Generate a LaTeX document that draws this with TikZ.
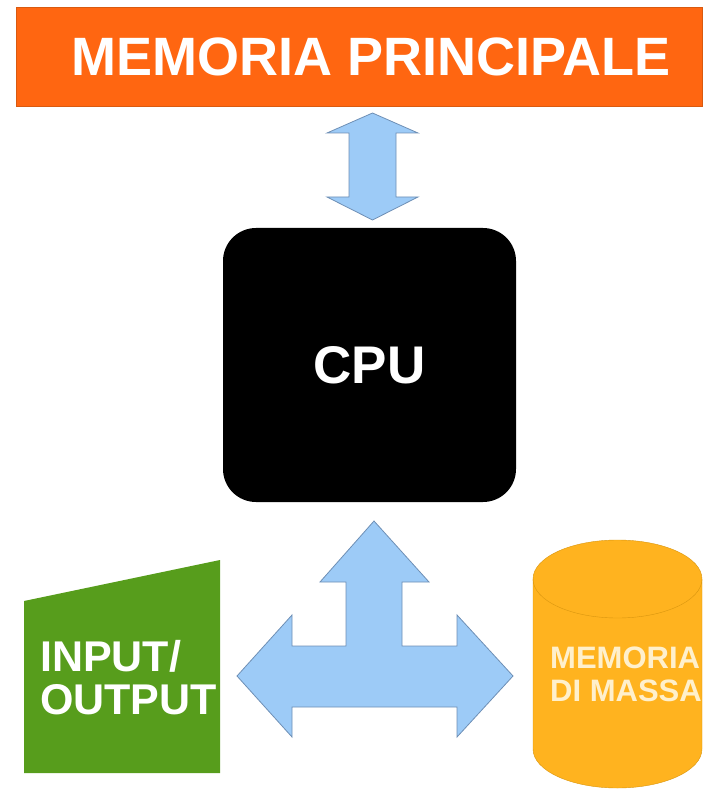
\documentclass[tikz,border=0pt]{standalone}
\usepackage{fontspec}
\setmainfont{Liberation Sans}
\usepackage{xcolor}
\usepackage{tikz}

\definecolor{memorange}{HTML}{FF6611}
\definecolor{memedge}{HTML}{D95A10}
\definecolor{busblue}{HTML}{9DCBF7}
\definecolor{busedge}{HTML}{6E8FB5}
\definecolor{iogreen}{HTML}{579D1C}
\definecolor{diskgold}{HTML}{FFB31F}
\definecolor{diskedge}{HTML}{D9960F}
\definecolor{disktext}{HTML}{FFF0CC}

\begin{document}
\begin{tikzpicture}[x=1pt, y=-1pt,
	banner/.style={fill=memorange, draw=memedge, text=white, minimum width=686pt, minimum height=99pt, inner sep=0pt, font=\fontsize{54}{60}\selectfont\bfseries},
	cpubox/.style={fill=black, rounded corners=33pt, text=white, minimum width=293pt, minimum height=274pt, inner sep=0pt, font=\fontsize{53}{60}\selectfont\bfseries},
	bus/.style={fill=busblue, draw=busedge, line width=0.8pt, line join=miter},
	label/.style={anchor=north west, align=left, inner sep=0pt}]
	\useasboundingbox (0,0) rectangle (706,791);
	\node[banner] (mem) at (359,56.5) {\kern24pt MEMORIA PRINCIPALE};
	\node[cpubox] (cpu) at (369.5,365) {CPU};
	\draw[bus] (372.5,113) -- (418,133) -- (396,133) -- (396,197) -- (418,197) -- (372.5,220) -- (327,197) -- (349,197) -- (349,133) -- (327,133) -- cycle;
	\draw[bus] (374,521) -- (429,582) -- (402,582) -- (402,646) -- (457,646) -- (457,615) -- (513,676) -- (457,737) -- (457,707)
		-- (292,707) -- (292,737) -- (237,676) -- (292,615) -- (292,646) -- (346,646) -- (346,582) -- (320,582) -- cycle;
	\fill[iogreen] (24,601) -- (220,560) -- (220,773) -- (24,773) -- cycle;
	\node[label, text=white, font=\fontsize{43}{43}\selectfont\bfseries] (io) at (40,640) {INPUT/\\OUTPUT};
	\filldraw[fill=diskgold, draw=diskedge] (533,579) -- (533,749) arc[start angle=180, end angle=0, x radius=84.5, y radius=39]
		-- (702,579) arc[start angle=0, end angle=-180, x radius=84.5, y radius=39] -- cycle;
	\draw[diskedge] (533,579) arc[start angle=180, end angle=0, x radius=84.5, y radius=39];
	\node[label, text=disktext, font=\fontsize{31}{33}\selectfont\bfseries] (disk) at (550,647) {MEMORIA\\DI MASSA};
\end{tikzpicture}
\end{document}
